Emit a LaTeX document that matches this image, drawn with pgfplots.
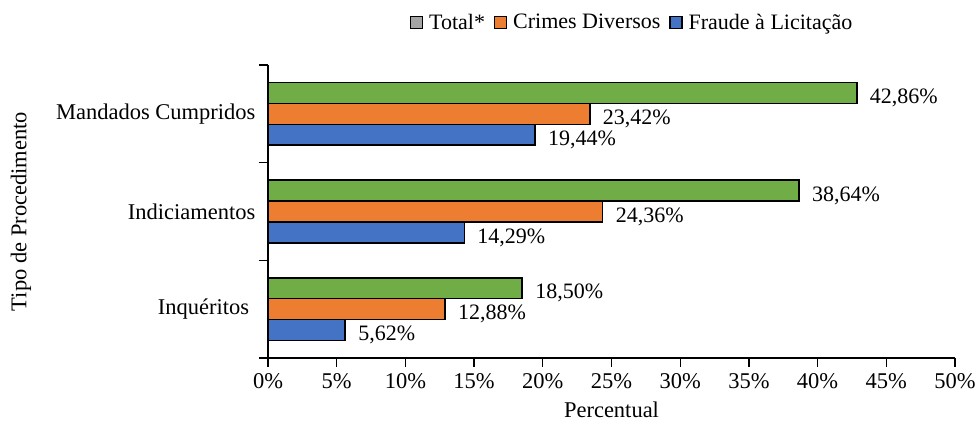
\documentclass[border=0pt]{standalone}
\usepackage{fontspec}
\setmainfont{Liberation Serif}
\usepackage{pgfplots}
\pgfplotsset{compat=1.18}
\definecolor{cgreen}{HTML}{70AD47}
\definecolor{corange}{HTML}{ED7D31}
\definecolor{cblue}{HTML}{4472C4}
\definecolor{cgray}{HTML}{A5A5A5}
\begin{document}
\begin{tikzpicture}
\begin{axis}[
  name=ax,
  scale only axis, width=687pt, height=293pt,
  font=\fontsize{22.5}{26}\selectfont,
  xbar, bar width=0.214,
  xmin=0, xmax=50, ymin=-0.5, ymax=2.5,
  axis lines=left, axis line style={-, line width=1.3pt},
  xtick={0,5,...,50},
  xticklabel={\pgfmathprintnumber[assume math mode=true]{\tick}\%},
  /pgf/number format/assume math mode=true,
  ytick={0,1,2},
  yticklabels={Inquéritos\hphantom{i},Indiciamentos,Mandados Cumpridos},
  major y tick style={draw=none},
  minor ytick={-0.5,0.5,1.5,2.5},
  minor tick length=9pt,
  major tick length=9pt,
  tick align=outside,
  tick style={line width=1.3pt, black},
  every tick label/.append style={font=\fontsize{22.5}{26}\selectfont},
  xticklabel style={yshift=-3pt},
  xlabel={Percentual},
  ylabel={Tipo de Procedimento},
  xlabel style={yshift=-6pt},
  ylabel style={at={(axis description cs:0,0.5)}, anchor=center, yshift=247pt},
  legend columns=-1,
  legend style={draw=none, at={(axis description cs:0.53,1)}, anchor=south, yshift=32pt, font=\fontsize{22}{26}\selectfont, inner sep=0pt,
    /tikz/every odd column/.append style={column sep=4pt},
    /tikz/every even column/.append style={column sep=7pt}},
  legend cell align=left,
  point meta=x,
  nodes near coords={\pgfmathprintnumber[fixed,fixed zerofill,precision=2,use comma,assume math mode=true]{\pgfplotspointmeta}\%},
  every node near coord/.append style={anchor=west, xshift=9pt, yshift=-5pt, font=\fontsize{22}{26}\selectfont, black},
  clip=false,
]
\addlegendimage{legend image code/.code={\draw[fill=cgray,draw=black,line width=1.2pt] (0pt,-6pt) rectangle (12pt,6pt);}}
\addlegendimage{legend image code/.code={\draw[fill=corange,draw=black,line width=1.2pt] (0pt,-6pt) rectangle (12pt,6pt);}}
\addlegendimage{legend image code/.code={\draw[fill=cblue,draw=black,line width=1.2pt] (0pt,-6pt) rectangle (12pt,6pt);}}
\legend{Total*,Crimes Diversos,Fraude à Licitação}
\addplot[fill=cblue, draw=black, line width=1.5pt, bar shift=-0.214] coordinates {(5.62,0) (14.29,1) (19.44,2)};
\addplot[fill=corange, draw=black, line width=1.5pt, bar shift=0] coordinates {(12.88,0) (24.36,1) (23.42,2)};
\addplot[fill=cgreen, draw=black, line width=1.5pt, bar shift=0.214] coordinates {(18.50,0) (38.64,1) (42.86,2)};
\end{axis}
\pgfresetboundingbox
\useasboundingbox ([xshift=-268pt,yshift=-63pt]ax.south west) rectangle ([xshift=20pt,yshift=65pt]ax.north east);
\end{tikzpicture}
\end{document}
